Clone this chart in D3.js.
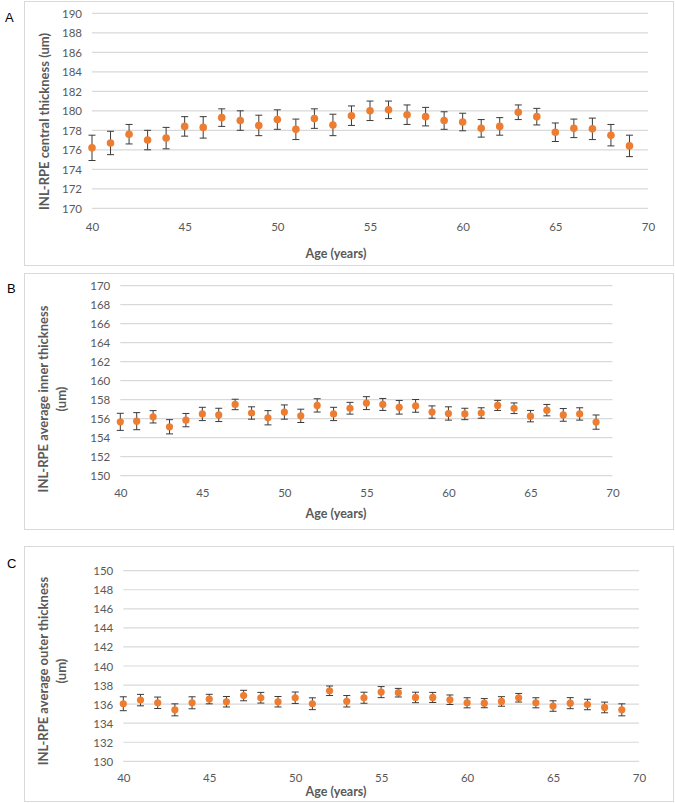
<!DOCTYPE html>
<html>
<head>
<meta charset="utf-8">
<script src="https://cdn.jsdelivr.net/npm/d3@7"></script>
<style>
  html, body { margin: 0; padding: 0; background: #fff; }
  svg { display: block; }
  .tick text { font-family: Lato, "Open Sans", sans-serif; font-size: 11.5px; fill: #595959; }
  .title { font-family: Lato, "Open Sans", sans-serif; font-weight: bold; fill: #595959; }
  .xtitle { font-size: 12.5px; }
  .ytitle { font-size: 13px; }
  .letter { font-family: "Liberation Sans", Arial, sans-serif; font-size: 13px; fill: #000; }
</style>
</head>
<body>
<svg id="chart" width="675" height="803"></svg>
<script>
// ---------- data ----------
const ages = [40,41,42,43,44,45,46,47,48,49,50,51,52,53,54,55,56,57,58,59,60,61,62,63,64,65,66,67,68,69];
const xTicks = [40,45,50,55,60,65,70];

const centralMean = [176.2,176.7,177.6,177.0,177.2,178.4,178.3,179.3,179.0,178.5,179.1,178.1,179.2,178.55,179.5,180.0,180.1,179.6,179.4,179.0,178.85,178.2,178.4,179.85,179.4,177.8,178.2,178.15,177.5,176.4];
const centralErr  = [1.3,1.2,1.0,1.0,1.1,1.0,1.1,0.9,1.0,1.05,1.0,1.05,1.0,1.1,1.0,1.0,0.9,1.0,0.95,0.9,0.9,0.9,0.9,0.75,0.85,0.95,0.95,1.1,1.1,1.1];
const centralTicks = [170,172,174,176,178,180,182,184,186,188,190];

const innerMean = [155.67,155.74,156.2,155.15,155.85,156.5,156.4,157.5,156.6,156.1,156.7,156.3,157.4,156.5,157.1,157.64,157.5,157.2,157.35,156.7,156.55,156.5,156.6,157.4,157.1,156.27,156.9,156.4,156.5,155.64];
const innerErr  = [0.9,0.9,0.65,0.75,0.7,0.7,0.7,0.55,0.65,0.75,0.75,0.7,0.7,0.7,0.62,0.68,0.63,0.72,0.67,0.65,0.7,0.6,0.55,0.53,0.56,0.6,0.6,0.67,0.65,0.75];
const innerTicks = [150,152,154,156,158,160,162,164,166,168,170];

const outerMean = [136.04,136.42,136.14,135.4,136.14,136.53,136.25,136.9,136.67,136.25,136.67,136.04,137.4,136.3,136.67,137.26,137.2,136.7,136.7,136.46,136.14,136.1,136.28,136.67,136.14,135.8,136.1,135.96,135.65,135.4];
const outerErr  = [0.73,0.6,0.6,0.63,0.63,0.5,0.55,0.55,0.56,0.55,0.6,0.62,0.5,0.6,0.58,0.58,0.45,0.55,0.53,0.5,0.53,0.48,0.5,0.45,0.53,0.55,0.58,0.55,0.56,0.63];
const outerTicks = [130,132,134,136,138,140,142,144,146,148,150];

const letters = ["A","B","C"];
const yTitles = [
  ["INL-RPE central thickness (um)"],
  ["INL-RPE average inner thickness", "(um)"],
  ["INL-RPE average outer thickness", "(um)"]
];
const xTitle = "Age (years)";

// ---------- layout (positions & styles) ----------
const panels = [
  { mean: centralMean, err: centralErr, ticks: centralTicks,
    box: [24, 1, 673, 265], x0: 92, x1: 648, yTop: 13.3, yBot: 208.3,
    xLabY: 227, xTitleY: 254, letter: [5, 17], titleX: [44], titleY: 121.5, r: 3.8 },
  { mean: innerMean, err: innerErr, ticks: innerTicks,
    box: [24, 273, 673, 529], x0: 120.3, x1: 612.5, yTop: 285.7, yBot: 475.7,
    xLabY: 492.7, xTitleY: 514, letter: [7, 288], titleX: [43.3, 61], titleY: 399, r: 3.6 },
  { mean: outerMean, err: outerErr, ticks: outerTicks,
    box: [24, 546, 673, 801], x0: 123.3, x1: 639, yTop: 570.7, yBot: 761.3,
    xLabY: 777.7, xTitleY: 792, letter: [7, 563], titleX: [43, 61], titleY: 671, r: 3.6 }
];

const svg = d3.select("#chart");

panels.forEach((p, i) => {
  const g = svg.append("g");
  const [bx0, by0, bx1, by1] = p.box;
  g.append("rect")
    .attr("x", bx0 + 0.5).attr("y", by0 + 0.5)
    .attr("width", bx1 - bx0).attr("height", by1 - by0)
    .attr("fill", "#fff").attr("stroke", "#d9d9d9").attr("stroke-width", 1);

  const x = d3.scaleLinear().domain([xTicks[0], xTicks[xTicks.length - 1]]).range([p.x0, p.x1]);
  const y = d3.scaleLinear().domain([p.ticks[0], p.ticks[p.ticks.length - 1]]).range([p.yBot, p.yTop]);

  // gridlines
  g.append("g").selectAll("line").data(p.ticks).join("line")
    .attr("x1", p.x0).attr("x2", p.x1)
    .attr("y1", d => y(d)).attr("y2", d => y(d))
    .attr("stroke", "#d9d9d9").attr("stroke-width", 1.2);

  // y axis labels
  const ya = g.append("g").attr("transform", `translate(${p.x0 - 10},0)`)
    .call(d3.axisLeft(y).tickValues(p.ticks).tickSize(0).tickPadding(0).tickFormat(d3.format("d")));
  ya.select(".domain").remove();
  ya.selectAll(".tick text").attr("dy", "0.35em");

  // x axis labels
  const xa = g.append("g").attr("transform", `translate(0,${p.xLabY})`)
    .call(d3.axisBottom(x).tickValues(xTicks).tickSize(0).tickPadding(0).tickFormat(d3.format("d")));
  xa.select(".domain").remove();
  xa.selectAll(".tick text").attr("dy", "0.35em");

  // error bars
  const eb = g.append("g").attr("stroke", "#3a3a3a").attr("stroke-width", 1);
  ages.forEach((a, k) => {
    const cx = x(a), hi = y(p.mean[k] + p.err[k]), lo = y(p.mean[k] - p.err[k]);
    eb.append("line").attr("x1", cx).attr("x2", cx).attr("y1", hi).attr("y2", lo);
    eb.append("line").attr("x1", cx - 3.5).attr("x2", cx + 3.5).attr("y1", hi).attr("y2", hi);
    eb.append("line").attr("x1", cx - 3.5).attr("x2", cx + 3.5).attr("y1", lo).attr("y2", lo);
  });

  // markers
  g.append("g").selectAll("circle").data(ages).join("circle")
    .attr("cx", d => x(d))
    .attr("cy", (d, k) => y(p.mean[k]))
    .attr("r", p.r)
    .attr("fill", "#ed7d31");

  // x title
  g.append("text").attr("class", "title xtitle")
    .attr("x", 336).attr("y", p.xTitleY).attr("dy", "0.35em")
    .attr("text-anchor", "middle").text(xTitle);

  // y title
  yTitles[i].forEach((t, j) => {
    g.append("text").attr("class", "title ytitle")
      .attr("transform", `translate(${p.titleX[j]},${p.titleY}) rotate(-90)`)
      .attr("dy", "0.35em").attr("text-anchor", "middle").text(t);
  });

  // panel letter
  g.append("text").attr("class", "letter")
    .attr("x", p.letter[0]).attr("y", p.letter[1]).attr("dy", "0.35em").text(letters[i]);
});
</script>
</body>
</html>
